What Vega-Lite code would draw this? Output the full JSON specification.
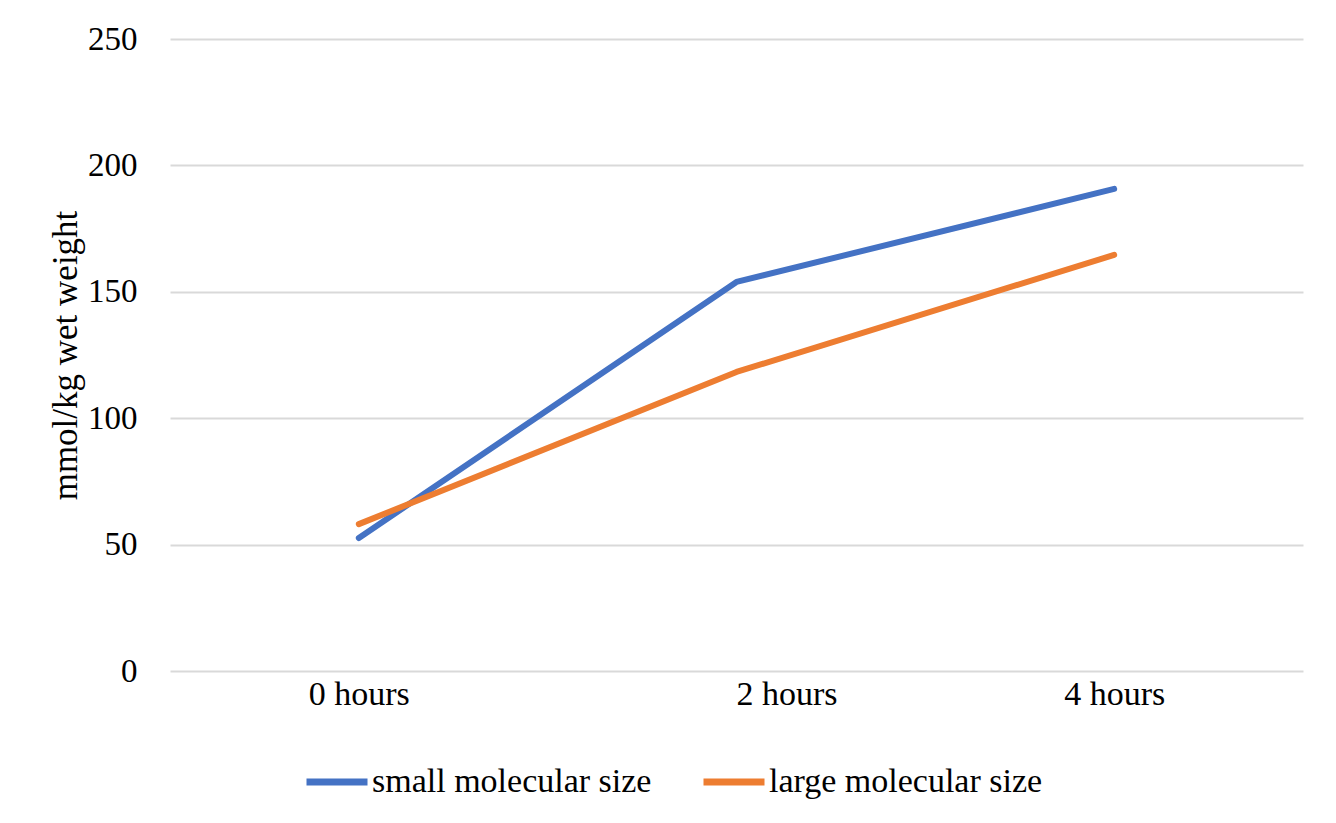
{
  "$schema": "https://vega.github.io/schema/vega-lite/v6.json",
  "autosize": "none",
  "width": 1133,
  "height": 632,
  "padding": {"left": 170, "top": 39, "right": 33, "bottom": 152},
  "background": "white",
  "config": {
    "view": {"stroke": null},
    "font": "Liberation Serif"
  },
  "data": {
    "values": [
      {"time": "0 hours", "series": "small molecular size", "value": 52.6},
      {"time": "2 hours", "series": "small molecular size", "value": 153.9},
      {"time": "4 hours", "series": "small molecular size", "value": 190.7},
      {"time": "0 hours", "series": "large molecular size", "value": 58.1},
      {"time": "2 hours", "series": "large molecular size", "value": 118.3},
      {"time": "4 hours", "series": "large molecular size", "value": 164.6}
    ]
  },
  "mark": {"type": "line", "strokeWidth": 6, "strokeCap": "round", "strokeJoin": "round"},
  "encoding": {
    "x": {
      "field": "time",
      "type": "ordinal",
      "sort": ["0 hours", "2 hours", "4 hours"],
      "scale": {"type": "point", "padding": 0.5},
      "axis": {
        "title": null,
        "labelAngle": 0,
        "ticks": false,
        "domain": false,
        "grid": false,
        "labelFont": "Liberation Serif",
        "labelFontSize": 34,
        "labelColor": "#000000",
        "labelPadding": 6,
        "labelOffset": {"condition": {"test": "datum.value === '2 hours'", "value": 50}, "value": 0}
      }
    },
    "y": {
      "field": "value",
      "type": "quantitative",
      "scale": {"domain": [0, 250], "nice": false},
      "axis": {
        "title": "mmol/kg wet weight",
        "titleFont": "Liberation Serif",
        "titleFontSize": 35,
        "titleFontWeight": "normal",
        "titleColor": "#000000",
        "titlePadding": 4,
        "values": [0, 50, 100, 150, 200, 250],
        "ticks": false,
        "domain": false,
        "labelFont": "Liberation Serif",
        "labelFontSize": 33,
        "labelColor": "#000000",
        "labelPadding": 33,
        "gridColor": "#d9d9d9",
        "gridWidth": 2
      }
    },
    "color": {
      "field": "series",
      "type": "nominal",
      "sort": ["small molecular size", "large molecular size"],
      "scale": {"domain": ["small molecular size", "large molecular size"], "range": ["#4472C4", "#ED7D31"]},
      "legend": {
        "title": null,
        "orient": "none",
        "direction": "horizontal",
        "legendX": 133,
        "legendY": 709,
        "symbolType": "stroke",
        "symbolSize": 3721,
        "symbolStrokeWidth": 7,
        "labelFont": "Liberation Serif",
        "labelFontSize": 34,
        "labelColor": "#000000",
        "labelOffset": 1,
        "labelLimit": 500,
        "columnPadding": 37
      }
    }
  }
}
